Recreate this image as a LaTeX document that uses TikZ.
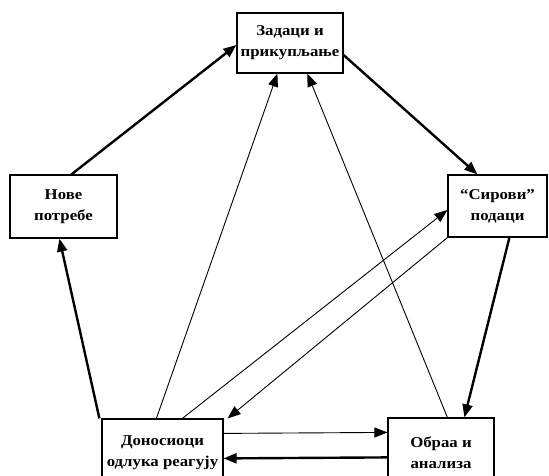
\documentclass[tikz,border=0pt]{standalone}
\usepackage{fontspec}
\setmainfont{Liberation Serif}
\newfontfamily\widefont[FakeStretch=1.12]{Liberation Serif}
\usetikzlibrary{arrows.meta,calc}
\begin{document}
\begin{tikzpicture}[x=1pt,y=-1pt,
  box/.style={draw,line width=1.2pt,fill=white,inner sep=0pt,align=center,
    font=\widefont\fontsize{15}{21}\selectfont\bfseries},
  thick arrow/.style={line width=2.4pt,-{Triangle[length=13pt,width=10pt]}},
  thin arrow/.style={line width=0.9pt,-{Triangle[length=13pt,width=10pt]}}]
\clip (0,0) rectangle (549,475);
\useasboundingbox (0,0) rectangle (549,475);
\node[box,minimum width=106pt,minimum height=60pt] (zad) at (290,43) {Задаци и\\прикупљање};
\node[box,minimum width=107pt,minimum height=63pt] (nove) at (63.5,206.5) {Нове\\потребе};
\node[box,minimum width=99pt,minimum height=62pt] (sir) at (497.5,206) {“Сирови”\\подаци};
\node[box,minimum width=121pt,minimum height=68pt] (don) at (162.5,453) {Доносиоци\\одлука реагују};
\node[box,minimum width=106pt,minimum height=70pt] (obr) at (441,453) {Обраа и\\анализа};
% thick cycle
\draw[thick arrow] ([xshift=62pt]nove.north west) -- ([yshift=-2pt]zad.west);
\draw[thick arrow] ([yshift=-12pt]zad.east) -- ([xshift=30pt]sir.north west);
\draw[thick arrow] ([xshift=62pt]sir.south west) -- ([xshift=77pt]obr.north west);
\draw[thick arrow] ([xshift=-2pt]don.north west) -- ([xshift=50pt]nove.south west);
% thin lines
\draw[thin arrow] ([xshift=55pt]don.north west) -- ([xshift=41pt]zad.south west);
\draw[thin arrow] ([xshift=60pt]obr.north west) -- ([xshift=71pt]zad.south west);
\draw[thin arrow] ([xshift=81pt]don.north west) -- ([yshift=-4pt]sir.west);
\draw[thin arrow] (sir.south west) -- ([xshift=4pt]don.north east);
% bottom pair
\draw[thin arrow] ([yshift=-15pt]don.north east) -- ([yshift=-15pt]obr.north west);
\draw[thick arrow] ([yshift=-40pt]obr.north west) -- ([yshift=-40pt]don.north east);
\end{tikzpicture}
\end{document}
